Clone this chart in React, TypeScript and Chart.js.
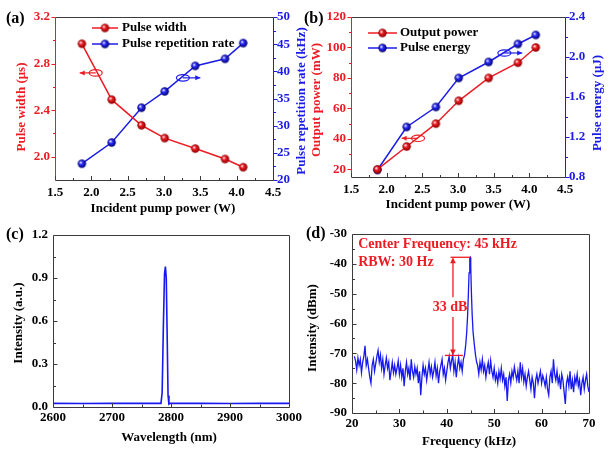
import React, { useEffect, useRef } from "react";
import { Chart, registerables } from "chart.js";
Chart.register(...registerables);

const W = 609;
const H = 450;
const FONT = '"Liberation Serif", "Times New Roman", Times, serif';
const RED = "#ed1c24";
const BLUE = "#1c1ce6";
const LINE_BLUE = "#1818f0";
const FRAME = "#3a3a3a";

// ---------------- data: panel (a) & (b) ----------------
const PUMP_POWER_W = [1.87, 2.28, 2.69, 3.01, 3.43, 3.84, 4.09];
const PULSE_WIDTH_US = [2.97, 2.49, 2.27, 2.16, 2.07, 1.98, 1.91];
const REP_RATE_KHZ = [23.0, 26.9, 33.3, 36.3, 41.0, 42.3, 45.2];
const OUTPUT_POWER_MW = [20, 35, 50, 65, 80, 90, 100];
const PULSE_ENERGY_UJ = [0.87, 1.3, 1.5, 1.79, 1.95, 2.13, 2.22];

// ---------------- data: panel (c) ----------------
const WAVELENGTH_NM = [2600, 2650, 2700, 2750, 2783, 2785, 2787, 2789, 2790.5, 2792, 2793.5, 2795, 2796.5, 2798, 2850, 2900, 2950, 3000];
const SPECTRUM_AU = [0.025, 0.024, 0.025, 0.025, 0.025, 0.1, 0.55, 0.93, 0.98, 0.9, 0.5, 0.08, 0.02, 0.025, 0.025, 0.024, 0.025, 0.025];

// ---------------- data: panel (d) ----------------
const NOISE_STEP_KHZ = 0.25;
const NOISE_A_START_KHZ = 20.5;
const NOISE_A_DBM = [
  -71, -72.5, -75.5, -71.5, -74, -72, -76.5, -73, -71, -67.5, -74, -72,
  -75, -78, -80, -74, -72, -76, -73.5, -71, -69, -73, -70.5, -75,
  -72, -77, -74, -71.5, -75, -73, -79, -76, -73, -76.5, -74, -77,
  -75, -72.5, -77, -74, -78, -75, -81, -76, -73, -77, -75, -79,
  -72, -76, -78, -74.5, -77, -75, -80, -76, -84, -78, -74, -77,
  -75, -79, -76, -73, -77, -74.5, -78, -76, -73, -77.5, -75, -80,
  -76, -74, -72, -77, -75, -79, -76, -73, -71, -75, -72.5, -70.5,
  -76, -73, -78, -74, -71.5, -75, -73, -76, -72,
];
const PEAK_KHZ = [43.75, 44.0, 44.2, 44.4, 44.55, 44.7, 44.85, 44.95, 45.05, 45.2, 45.35, 45.55, 45.8, 46.05, 46.3];
const PEAK_DBM = [-70.5, -67, -63, -57, -50, -43, -38, -37.8, -41, -50, -57, -63, -67, -70.5, -73];
const NOISE_B_START_KHZ = 46.5;
const NOISE_B_DBM = [
  -74, -77, -73, -75.5, -72, -76, -74, -78, -75, -73, -77, -72.5,
  -76, -78, -75, -79, -77, -80, -76, -78.5, -75, -79, -77, -81,
  -78, -86, -79, -77, -80, -76, -78, -74.5, -77, -79, -76, -80,
  -73, -78, -75, -79.5, -77, -81, -78, -76, -79, -82, -78, -80,
  -85, -79, -77, -80, -78, -76, -80, -77.5, -79, -81, -78, -82,
  -84, -78, -76, -80, -72, -77, -79, -76, -80, -78, -82, -77,
  -79, -83, -87, -80, -78, -81, -76, -82, -79, -83, -78, -80,
  -77, -81, -79, -84, -80, -78, -82, -79, -77, -81, -83,
];

// ---------------- tick labels ----------------
const A_X_TICKS = [1.5, 2.0, 2.5, 3.0, 3.5, 4.0, 4.5];
const A_X_MINOR = [1.75, 2.25, 2.75, 3.25, 3.75, 4.25];
const A_Y_TICKS = [2.0, 2.4, 2.8, 3.2];
const A_Y_MINOR = [2.2, 2.6, 3.0];
const A_Y2_TICKS = [20, 25, 30, 35, 40, 45, 50];
const A_Y2_MINOR = [22.5, 27.5, 32.5, 37.5, 42.5, 47.5];
const B_Y_TICKS = [20, 40, 60, 80, 100, 120];
const B_Y_MINOR = [30, 50, 70, 90, 110];
const B_Y2_TICKS = [0.8, 1.2, 1.6, 2.0, 2.4];
const B_Y2_MINOR = [1.0, 1.4, 1.8, 2.2];
const C_X_TICKS = [2600, 2700, 2800, 2900, 3000];
const C_X_MINOR = [2650, 2750, 2850, 2950];
const C_Y_TICKS = [0, 0.3, 0.6, 0.9, 1.2];
const C_Y_MINOR = [0.15, 0.45, 0.75, 1.05];
const D_X_TICKS = [20, 30, 40, 50, 60, 70];
const D_X_MINOR = [25, 35, 45, 55, 65];
const D_Y_TICKS = [-90, -80, -70, -60, -50, -40, -30];
const D_Y_MINOR = [-85, -75, -65, -55, -45, -35];

// ---------------- helpers ----------------
const fmt1 = (v: number) => v.toFixed(1);
const fmt0 = (v: number) => String(Math.round(v));
const tickFont = () => ({ family: FONT, size: 13, weight: "bold" as const });

function sphere(color: string, dark: string, r: number) {
  const c = document.createElement("canvas");
  const s = Math.ceil(r * 2) + 2;
  c.width = s;
  c.height = s;
  const g = c.getContext("2d")!;
  const cx = s / 2, cy = s / 2;
  const grad = g.createRadialGradient(cx - r * 0.35, cy - r * 0.35, r * 0.05, cx, cy, r);
  grad.addColorStop(0, "#ffffff");
  grad.addColorStop(0.4, color);
  grad.addColorStop(1, dark);
  g.fillStyle = grad;
  g.beginPath();
  g.arc(cx, cy, r, 0, Math.PI * 2);
  g.fill();
  return c;
}

function yScale(o: { position: "left" | "right"; min: number; max: number; ticks: number[]; fmt: (v: number) => string; color: string; width: number; pad?: number }) {
  return {
    type: "linear",
    position: o.position,
    min: o.min,
    max: o.max,
    grid: { display: false, drawTicks: false },
    border: { display: false },
    title: { display: false },
    ticks: { color: o.color, font: tickFont(), padding: o.pad ?? 5, autoSkip: false, callback: (v: any) => o.fmt(Number(v)) },
    afterBuildTicks: (s: any) => { s.ticks = o.ticks.map((v) => ({ value: v })); },
    afterFit: (s: any) => { s.width = o.width; },
  };
}

function xScale(o: { min: number; max: number; ticks: number[]; fmt: (v: number) => string; height: number; pad?: number }) {
  return {
    type: "linear",
    position: "bottom",
    min: o.min,
    max: o.max,
    grid: { display: false, drawTicks: false },
    border: { display: false },
    title: { display: false },
    ticks: { color: "#000", font: tickFont(), padding: o.pad ?? 5, autoSkip: false, maxRotation: 0, callback: (v: any) => o.fmt(Number(v)) },
    afterBuildTicks: (s: any) => { s.ticks = o.ticks.map((v) => ({ value: v })); },
    afterFit: (s: any) => { s.height = o.height; },
  };
}

type Plot = { L: number; T: number; R: number; B: number };
function layoutFor(p: Plot, hasRight: boolean) {
  return {
    padding: {
      left: p.L - 45,
      top: p.T,
      right: hasRight ? W - p.R - 30 : W - p.R,
      bottom: H - p.B - 30,
    },
  };
}

function line(ctx: CanvasRenderingContext2D, x1: number, y1: number, x2: number, y2: number, color: string, w = 1) {
  ctx.save();
  ctx.strokeStyle = color;
  ctx.lineWidth = w;
  ctx.beginPath();
  ctx.moveTo(x1, y1);
  ctx.lineTo(x2, y2);
  ctx.stroke();
  ctx.restore();
}

function ticksX(ctx: CanvasRenderingContext2D, chart: any, values: number[], len: number, color: string) {
  const s = chart.scales.x;
  const b = Math.round(chart.chartArea.bottom);
  for (const v of values) {
    const x = Math.round(s.getPixelForValue(v)) + 0.5;
    line(ctx, x, b, x, b - len, color);
  }
}

function ticksY(ctx: CanvasRenderingContext2D, chart: any, id: string, side: "left" | "right", values: number[], len: number, outward: boolean, color: string) {
  const s = chart.scales[id];
  const x0 = side === "left" ? Math.round(chart.chartArea.left) + 0.5 : Math.round(chart.chartArea.right) + 0.5;
  const dir = (side === "left" ? -1 : 1) * (outward ? 1 : -1);
  for (const v of values) {
    const y = Math.round(s.getPixelForValue(v)) + 0.5;
    line(ctx, x0, y, x0 + dir * len, y, color);
  }
}

function frame(ctx: CanvasRenderingContext2D, chart: any, leftColor: string, rightColor: string) {
  const ca = chart.chartArea;
  const l = Math.round(ca.left) + 0.5, r = Math.round(ca.right) + 0.5;
  const t = Math.round(ca.top) + 0.5, b = Math.round(ca.bottom) + 0.5;
  line(ctx, l, t, r, t, FRAME);
  line(ctx, l, b, r, b, FRAME);
  line(ctx, l, t, l, b, leftColor);
  line(ctx, r, t, r, b, rightColor);
}

function text(ctx: CanvasRenderingContext2D, s: string, x: number, y: number, color: string, size = 13, align: CanvasTextAlign = "center", rot = 0) {
  ctx.save();
  ctx.fillStyle = color;
  ctx.font = `bold ${size}px ${FONT}`;
  ctx.textAlign = align;
  ctx.textBaseline = "middle";
  ctx.translate(x, y);
  if (rot) ctx.rotate(rot);
  ctx.fillText(s, 0, 0);
  ctx.restore();
}

function arrowHead(ctx: CanvasRenderingContext2D, x: number, y: number, dx: number, dy: number, color: string, len = 6, half = 2.8) {
  const n = Math.hypot(dx, dy);
  const ux = dx / n, uy = dy / n;
  ctx.save();
  ctx.fillStyle = color;
  ctx.beginPath();
  ctx.moveTo(x, y);
  ctx.lineTo(x - ux * len - uy * half, y - uy * len + ux * half);
  ctx.lineTo(x - ux * len + uy * half, y - uy * len - ux * half);
  ctx.closePath();
  ctx.fill();
  ctx.restore();
}

function ellipseArrow(ctx: CanvasRenderingContext2D, chart: any, yId: string, a: { x: number; y: number; tipX: number }, color: string) {
  const cx = chart.scales.x.getPixelForValue(a.x);
  const cy = chart.scales[yId].getPixelForValue(a.y);
  const tx = chart.scales.x.getPixelForValue(a.tipX);
  ctx.save();
  ctx.strokeStyle = color;
  ctx.lineWidth = 1.2;
  ctx.beginPath();
  ctx.ellipse(cx, cy, 6.5, 3.2, 0, 0, Math.PI * 2);
  ctx.stroke();
  ctx.restore();
  line(ctx, cx, cy, tx, cy, color, 1.2);
  arrowHead(ctx, tx, cy, tx - cx, 0, color, 5, 2.5);
}

function legend(ctx: CanvasRenderingContext2D, rows: { label: string; color: string; ball: HTMLCanvasElement; y: number }[], x0: number, x1: number, tx: number) {
  for (const r of rows) {
    line(ctx, x0, r.y, x1, r.y, r.color, 1.5);
    ctx.drawImage(r.ball, (x0 + x1) / 2 - r.ball.width / 2, r.y - r.ball.height / 2);
    text(ctx, r.label, tx, r.y, "#000", 13, "left");
  }
}

const redBall = () => sphere(RED, "#8a0000", 4.2);
const blueBall = () => sphere("#2a2aff", "#00006a", 4.2);

// ---------------- annotations (data units) ----------------
const A_NOTE_RED = { x: 2.06, y: 2.72, tipX: 1.84 };
const A_NOTE_BLUE = { x: 3.26, y: 38.8, tipX: 3.5 };
const B_NOTE_RED = { x: 2.44, y: 40.4, tipX: 2.21 };
const B_NOTE_BLUE = { x: 3.65, y: 2.04, tipX: 3.9 };
const D_TEXT_X = 21.3;
const D_TEXT1 = { s: "Center Frequency: 45 kHz", y: -33.4 };
const D_TEXT2 = { s: "RBW: 30 Hz", y: -39.4 };
const D_TOP_BAR = { x0: 40.8, x1: 45.0, y: -37.8 };
const D_BOTTOM_BAR = { x0: 39.6, x1: 43.4, y: -70.7 };
const D_ARROW_X = 41.3;
const D_GAP = [-51.2, -57.8];
const D_DB_LABEL = { s: "33 dB", x: 40.7, y: -54.5 };

// ---------------- panels ----------------
const PA: Plot = { L: 55, T: 17, R: 273, B: 180 };
const PB: Plot = { L: 351, T: 17, R: 565, B: 177 };
const PC: Plot = { L: 53, T: 235, R: 289, B: 407 };
const PD: Plot = { L: 352, T: 234, R: 589, B: 413 };

function makeA(canvas: HTMLCanvasElement) {
  const rb = redBall(), bb = blueBall();
  return new Chart(canvas, {
    type: "scatter",
    data: {
      datasets: [
        { data: PUMP_POWER_W.map((x, i) => ({ x, y: PULSE_WIDTH_US[i] })), yAxisID: "y", showLine: true, borderColor: RED, borderWidth: 1.5, pointStyle: rb as any, pointRadius: 4, clip: false as any },
        { data: PUMP_POWER_W.map((x, i) => ({ x, y: REP_RATE_KHZ[i] })), yAxisID: "y2", showLine: true, borderColor: BLUE, borderWidth: 1.5, pointStyle: bb as any, pointRadius: 4, clip: false as any },
      ],
    },
    options: {
      responsive: false, animation: false, devicePixelRatio: 1,
      layout: layoutFor(PA, true),
      plugins: { legend: { display: false }, tooltip: { enabled: false } },
      scales: {
        x: xScale({ min: 1.5, max: 4.5, ticks: A_X_TICKS, fmt: fmt1, height: 30 }),
        y: yScale({ position: "left", min: 1.8, max: 3.2, ticks: A_Y_TICKS, fmt: fmt1, color: RED, width: 45 }),
        y2: yScale({ position: "right", min: 20, max: 50, ticks: A_Y2_TICKS, fmt: fmt0, color: BLUE, width: 30, pad: 4 }),
      } as any,
    },
    plugins: [{
      id: "decorA",
      afterDraw(chart: any) {
        const ctx = chart.ctx;
        frame(ctx, chart, RED, BLUE);
        ticksX(ctx, chart, A_X_TICKS, 4, FRAME);
        ticksX(ctx, chart, A_X_MINOR, 2, FRAME);
        ticksY(ctx, chart, "y", "left", A_Y_TICKS, 4, true, RED);
        ticksY(ctx, chart, "y", "left", A_Y_MINOR, 2.5, true, RED);
        ticksY(ctx, chart, "y2", "right", A_Y2_TICKS, 4, true, BLUE);
        ticksY(ctx, chart, "y2", "right", A_Y2_MINOR, 2.5, true, BLUE);
        text(ctx, "Pulse width (μs)", 22, 107, RED, 13, "center", -Math.PI / 2);
        text(ctx, "Pulse repetition rate (kHz)", 302, 101, BLUE, 13, "center", -Math.PI / 2);
        text(ctx, "Incident pump power (W)", 163, 209, "#000");
        text(ctx, "(a)", 6, 19, "#000", 16, "left");
        legend(ctx, [
          { label: "Pulse width", color: RED, ball: rb, y: 28 },
          { label: "Pulse repetition rate", color: BLUE, ball: bb, y: 44 },
        ], 92, 118, 122);
        ellipseArrow(ctx, chart, "y", A_NOTE_RED, RED);
        ellipseArrow(ctx, chart, "y2", A_NOTE_BLUE, BLUE);
      },
    }],
  } as any);
}

function makeB(canvas: HTMLCanvasElement) {
  const rb = redBall(), bb = blueBall();
  return new Chart(canvas, {
    type: "scatter",
    data: {
      datasets: [
        { data: PUMP_POWER_W.map((x, i) => ({ x, y: OUTPUT_POWER_MW[i] })), yAxisID: "y", showLine: true, borderColor: RED, borderWidth: 1.5, pointStyle: rb as any, pointRadius: 4, clip: false as any },
        { data: PUMP_POWER_W.map((x, i) => ({ x, y: PULSE_ENERGY_UJ[i] })), yAxisID: "y2", showLine: true, borderColor: BLUE, borderWidth: 1.5, pointStyle: bb as any, pointRadius: 4, clip: false as any },
      ],
    },
    options: {
      responsive: false, animation: false, devicePixelRatio: 1,
      layout: layoutFor(PB, true),
      plugins: { legend: { display: false }, tooltip: { enabled: false } },
      scales: {
        x: xScale({ min: 1.5, max: 4.5, ticks: A_X_TICKS, fmt: fmt1, height: 30 }),
        y: yScale({ position: "left", min: 15, max: 120, ticks: B_Y_TICKS, fmt: fmt0, color: RED, width: 45 }),
        y2: yScale({ position: "right", min: 0.8, max: 2.4, ticks: B_Y2_TICKS, fmt: fmt1, color: BLUE, width: 30, pad: 4 }),
      } as any,
    },
    plugins: [{
      id: "decorB",
      afterDraw(chart: any) {
        const ctx = chart.ctx;
        frame(ctx, chart, RED, BLUE);
        ticksX(ctx, chart, A_X_TICKS, 4, FRAME);
        ticksX(ctx, chart, A_X_MINOR, 2, FRAME);
        ticksY(ctx, chart, "y", "left", B_Y_TICKS, 4, true, RED);
        ticksY(ctx, chart, "y", "left", B_Y_MINOR, 2.5, true, RED);
        ticksY(ctx, chart, "y2", "right", B_Y2_TICKS, 4, true, BLUE);
        ticksY(ctx, chart, "y2", "right", B_Y2_MINOR, 2.5, true, BLUE);
        text(ctx, "Output power (mW)", 317, 100, RED, 13, "center", -Math.PI / 2);
        text(ctx, "Pulse energy (μJ)", 598, 103, BLUE, 13, "center", -Math.PI / 2);
        text(ctx, "Incident pump power (W)", 458, 205, "#000");
        text(ctx, "(b)", 304, 19, "#000", 16, "left");
        legend(ctx, [
          { label: "Output power", color: RED, ball: rb, y: 33 },
          { label: "Pulse energy", color: BLUE, ball: bb, y: 48 },
        ], 368, 397, 400);
        ellipseArrow(ctx, chart, "y", B_NOTE_RED, RED);
        ellipseArrow(ctx, chart, "y2", B_NOTE_BLUE, BLUE);
      },
    }],
  } as any);
}

function makeC(canvas: HTMLCanvasElement) {
  return new Chart(canvas, {
    type: "line",
    data: {
      datasets: [
        { data: WAVELENGTH_NM.map((x, i) => ({ x, y: SPECTRUM_AU[i] })), borderColor: LINE_BLUE, borderWidth: 1.6, pointRadius: 0, tension: 0 },
      ],
    },
    options: {
      responsive: false, animation: false, devicePixelRatio: 1,
      layout: layoutFor(PC, false),
      plugins: { legend: { display: false }, tooltip: { enabled: false } },
      scales: {
        x: xScale({ min: 2600, max: 3000, ticks: C_X_TICKS, fmt: fmt0, height: 30, pad: 3 }),
        y: yScale({ position: "left", min: 0, max: 1.2, ticks: C_Y_TICKS, fmt: fmt1, color: "#000", width: 45 }),
      } as any,
    },
    plugins: [{
      id: "decorC",
      afterDraw(chart: any) {
        const ctx = chart.ctx;
        frame(ctx, chart, FRAME, FRAME);
        ticksX(ctx, chart, C_X_TICKS, 4, FRAME);
        ticksX(ctx, chart, C_X_MINOR, 2.5, FRAME);
        ticksY(ctx, chart, "y", "left", C_Y_TICKS, 4, false, FRAME);
        ticksY(ctx, chart, "y", "left", C_Y_MINOR, 2.5, false, FRAME);
        text(ctx, "Intensity (a.u.)", 19, 323, "#000", 13, "center", -Math.PI / 2);
        text(ctx, "Wavelength (nm)", 169, 438, "#000");
        text(ctx, "(c)", 6, 235, "#000", 16, "left");
      },
    }],
  } as any);
}

function makeD(canvas: HTMLCanvasElement) {
  const pts: { x: number; y: number }[] = [];
  NOISE_A_DBM.forEach((y, i) => pts.push({ x: NOISE_A_START_KHZ + i * NOISE_STEP_KHZ, y }));
  PEAK_KHZ.forEach((x, i) => pts.push({ x, y: PEAK_DBM[i] }));
  NOISE_B_DBM.forEach((y, i) => pts.push({ x: NOISE_B_START_KHZ + i * NOISE_STEP_KHZ, y }));
  return new Chart(canvas, {
    type: "line",
    data: { datasets: [{ data: pts, borderColor: LINE_BLUE, borderWidth: 1.3, pointRadius: 0, tension: 0 }] },
    options: {
      responsive: false, animation: false, devicePixelRatio: 1,
      layout: layoutFor(PD, false),
      plugins: { legend: { display: false }, tooltip: { enabled: false } },
      scales: {
        x: xScale({ min: 20, max: 70, ticks: D_X_TICKS, fmt: fmt0, height: 30, pad: 3 }),
        y: yScale({ position: "left", min: -90, max: -30, ticks: D_Y_TICKS, fmt: fmt0, color: "#000", width: 45 }),
      } as any,
    },
    plugins: [{
      id: "decorD",
      afterDraw(chart: any) {
        const ctx = chart.ctx;
        const sx = chart.scales.x, sy = chart.scales.y;
        frame(ctx, chart, FRAME, FRAME);
        ticksX(ctx, chart, D_X_TICKS, 4, FRAME);
        ticksX(ctx, chart, D_X_MINOR, 2.5, FRAME);
        ticksY(ctx, chart, "y", "left", D_Y_TICKS, 4, false, FRAME);
        ticksY(ctx, chart, "y", "left", D_Y_MINOR, 2.5, false, FRAME);
        text(ctx, "Intensity (dBm)", 313, 328, "#000", 13, "center", -Math.PI / 2);
        text(ctx, "Frequency (kHz)", 469, 442, "#000");
        text(ctx, "(d)", 306, 234, "#000", 16, "left");
        const tx = sx.getPixelForValue(D_TEXT_X);
        text(ctx, D_TEXT1.s, tx, sy.getPixelForValue(D_TEXT1.y), RED, 14, "left");
        text(ctx, D_TEXT2.s, tx, sy.getPixelForValue(D_TEXT2.y), RED, 14, "left");
        const ty = sy.getPixelForValue(D_TOP_BAR.y);
        line(ctx, sx.getPixelForValue(D_TOP_BAR.x0), ty, sx.getPixelForValue(D_TOP_BAR.x1), ty, RED, 1.3);
        const by = sy.getPixelForValue(D_BOTTOM_BAR.y);
        line(ctx, sx.getPixelForValue(D_BOTTOM_BAR.x0), by, sx.getPixelForValue(D_BOTTOM_BAR.x1), by, RED, 1.3);
        const ax = sx.getPixelForValue(D_ARROW_X);
        const g0 = sy.getPixelForValue(D_GAP[0]), g1 = sy.getPixelForValue(D_GAP[1]);
        line(ctx, ax, ty + 5, ax, g0, RED, 1.3);
        line(ctx, ax, g1, ax, by - 5, RED, 1.3);
        arrowHead(ctx, ax, ty, 0, -1, RED, 6, 2.8);
        arrowHead(ctx, ax, by, 0, 1, RED, 6, 2.8);
        text(ctx, D_DB_LABEL.s, sx.getPixelForValue(D_DB_LABEL.x), sy.getPixelForValue(D_DB_LABEL.y), RED, 14);
      },
    }],
  } as any);
}

function ChartCanvas({ make }: { make: (c: HTMLCanvasElement) => Chart }) {
  const ref = useRef<HTMLCanvasElement>(null);
  useEffect(() => {
    const ch = make(ref.current!);
    return () => ch.destroy();
  }, [make]);
  return <canvas ref={ref} width={W} height={H} style={{ position: "absolute", left: 0, top: 0, width: W, height: H }} />;
}

export default function App() {
  return (
    <div style={{ position: "absolute", left: 0, top: 0, width: W, height: H, background: "#fff", overflow: "hidden" }}>
      <ChartCanvas make={makeA} />
      <ChartCanvas make={makeB} />
      <ChartCanvas make={makeC} />
      <ChartCanvas make={makeD} />
    </div>
  );
}
